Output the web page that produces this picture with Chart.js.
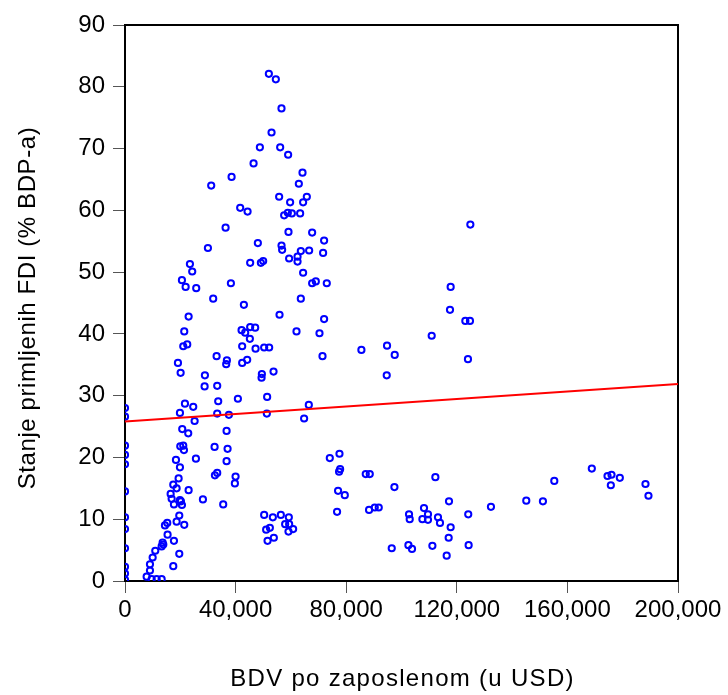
<!DOCTYPE html>
<html>
<head>
<meta charset="utf-8">
<script src="https://cdn.jsdelivr.net/npm/chart.js@4/dist/chart.umd.min.js"></script>
<style>
    html, body { margin: 0; padding: 0; background: #fff; }
    #wrap { width: 728px; height: 695px; }
</style>
</head>
<body>
<div id="wrap"><canvas id="fdiChart" width="728" height="695"></canvas></div>
<script>
// BDV po zaposlenom (USD) -> x, stanje FDI (% BDP) -> y
const bdvPoZaposlenom = [
    0, 0, 0, 0, 0, 0, 0, 0, 0, 0, 0, 0,
    52030, 54550, 56600, 53000, 48780, 56120, 59000, 46500, 64200, 38550,
    62870, 31180, 55750, 65760, 59720, 64420, 41660, 44330, 57560, 58890,
    60340, 63340, 36380, 59130, 67680, 72010, 29990, 48050, 56610, 56830,
    63590, 66600, 71650, 59360, 62400, 62400, 45270, 49140, 49970, 64420,
    67680, 69010, 72980, 38300, 31900, 63590, 43000, 55890, 72010, 62030,
    70340, 42160, 43470, 45270, 47080, 45160, 42380, 47220, 50330, 52140,
    33130, 36850, 36600, 42380, 44190, 71430, 85500, 28900, 28790, 33350,
    49500, 49390, 53720, 33710, 40830, 51410, 66480, 33350, 37580, 51300,
    64780, 36740, 32400, 37100,
    23480, 24310, 20590, 21930, 25760, 23010, 21430, 21070, 22510, 19150,
    20120, 21680, 24680, 19870, 25180, 20700, 22870, 19990, 21070, 21320,
    25650, 18430, 36740, 19870, 19390, 17460, 18670, 16510, 32520, 33350,
    39990, 39740, 23010, 16870, 17700, 20230, 20590, 19870, 28180, 35520,
    19630, 14450, 15280, 18670, 21430, 15400, 17700, 13610, 13850, 13250,
    10950, 10000, 9030, 9030, 19630, 17460, 7830, 9650, 11450, 13250,
    50330, 53470, 56360, 59250, 57920, 59370, 60810, 59130, 51050, 52390,
    51560, 53830,
    74070, 77570, 77800, 77420, 77060, 79490, 76700,
    94770, 97550, 94660, 110920, 117780, 117540, 123090, 124760, 124040, 124900,
    87070, 88520, 97440, 88270, 90330, 91770, 96470, 102720, 102970, 102500,
    103800, 108140, 109580, 107560, 109580, 111170, 112250, 113200, 113920, 117180,
    117780, 117060, 116340, 124140, 124280, 132350, 145130, 151150, 155260, 168830,
    174510, 175950, 175710, 178960, 188240, 189320
]

const stanjeFdi = [
    28.0, 26.6, 21.9, 20.4, 18.9, 14.5, 10.3, 8.4, 5.3, 2.3, 1.2, 0.2,
    82.1, 81.2, 76.5, 72.6, 70.2, 70.2, 69.0, 67.6, 66.1, 65.4,
    64.3, 64.0, 62.2, 62.2, 61.3, 61.3, 60.4, 59.8, 59.2, 59.6,
    59.5, 59.5, 57.2, 56.5, 56.4, 55.1, 53.9, 54.7, 54.3, 53.6,
    53.4, 53.5, 53.1, 52.2, 52.5, 51.7, 51.5, 51.5, 51.8, 49.9,
    48.2, 48.5, 48.2, 48.2, 45.7, 45.7, 44.7, 43.1, 42.4, 40.4,
    40.1, 40.6, 40.2, 41.1, 41.0, 39.2, 38.0, 37.6, 37.8, 37.8,
    36.4, 35.7, 35.1, 35.3, 35.8, 36.4, 37.4, 33.3, 31.5, 31.6,
    33.5, 32.9, 33.9, 29.1, 29.5, 29.8, 28.5, 27.1, 26.9, 27.1,
    26.3, 24.3, 21.7, 21.4,
    51.3, 50.1, 48.7, 47.6, 47.4, 42.8, 40.4, 38.0, 38.3, 35.3,
    33.7, 28.7, 28.2, 27.2, 25.9, 24.6, 23.9, 21.8, 21.9, 21.2,
    19.8, 19.6, 19.4, 18.4, 16.6, 15.6, 15.0, 14.1, 17.1, 17.5,
    16.9, 15.8, 14.7, 13.3, 12.4, 12.9, 12.3, 13.1, 13.2, 12.4,
    10.6, 9.0, 9.4, 9.6, 9.1, 7.5, 6.5, 6.2, 5.9, 5.6,
    4.9, 3.8, 2.7, 1.7, 4.4, 2.4, 0.7, 0.3, 0.3, 0.3,
    10.7, 10.3, 10.7, 10.3, 9.2, 9.2, 8.4, 8.0, 8.3, 8.6,
    6.5, 7.0,
    19.9, 20.6, 18.1, 17.7, 14.6, 13.9, 11.2,
    38.1, 36.6, 33.3, 39.7, 47.6, 43.9, 42.1, 42.1, 35.9, 57.7,
    17.3, 17.3, 15.2, 11.5, 11.9, 11.9, 5.3, 10.8, 10.0, 5.8,
    5.2, 11.8, 10.8, 10.0, 9.9, 5.7, 16.8, 10.3, 9.4, 12.9,
    8.7, 7.0, 4.1, 10.8, 5.8, 12.0, 13.0, 12.9, 16.2, 18.2,
    17.0, 17.2, 15.5, 16.7, 15.7, 13.8
]

// krajnje tacke linije regresije (ocitano sa slike)
const linijaX = [0, 200000]
const linijaY = [25.8, 31.9]

const xTicks = [0, 40000, 80000, 120000, 160000, 200000]
const yTicks = [0, 10, 20, 30, 40, 50, 60, 70, 80, 90]

const xNaslov = 'BDV po zaposlenom (u USD)'
const yNaslov = 'Stanje primljenih FDI (% BDP-a)'

const FONT = "'Liberation Sans', Arial, sans-serif"

;(function () {
    const points = bdvPoZaposlenom.map((x, i) => ({ x: x, y: stanjeFdi[i] }))
    const line = linijaX.map((x, i) => ({ x: x, y: linijaY[i] }))

    // okvir oko grafika
    const framePlugin = {
        id: 'frame',
        beforeDatasetsDraw(chart) {
            const a = chart.chartArea
            const ctx = chart.ctx
            ctx.save()
            ctx.strokeStyle = '#000'
            ctx.lineWidth = 2
            ctx.strokeRect(a.left, a.top, a.right - a.left, a.bottom - a.top)
            ctx.restore()
        }
    }

    // naslovi osa (malo razmaknuta slova kao u originalu)
    const axisTitles = {
        id: 'axisTitles',
        afterDraw(chart) {
            const a = chart.chartArea
            const ctx = chart.ctx
            ctx.save()
            ctx.fillStyle = '#000'
            ctx.font = '24px ' + FONT
            ctx.textAlign = 'center'

            ctx.letterSpacing = '1.3px'
            ctx.textBaseline = 'alphabetic'
            ctx.fillText(xNaslov, (a.left + a.right) / 2 + 1, 686)

            ctx.letterSpacing = '0.6px'
            ctx.textBaseline = 'middle'
            ctx.translate(28, (a.top + a.bottom) / 2 + 5)
            ctx.rotate(-Math.PI / 2)
            ctx.fillText(yNaslov, 0, 0)
            ctx.restore()
        }
    }

    new Chart(document.getElementById('fdiChart'), {
        type: 'scatter',
        data: {
            datasets: [
                {
                    data: points,
                    showLine: false,
                    pointStyle: 'circle',
                    pointRadius: 3.1,
                    pointBorderWidth: 2,
                    pointBorderColor: '#0000FF',
                    pointBackgroundColor: 'rgba(0,0,0,0)',
                    clip: 0,
                    order: 2
                },
                {
                    type: 'line',
                    data: line,
                    borderColor: '#FF0000',
                    borderWidth: 2,
                    pointRadius: 0,
                    fill: false,
                    clip: 0,
                    order: 1
                }
            ]
        },
        options: {
            responsive: false,
            animation: false,
            devicePixelRatio: 1,
            layout: {
                padding: { left: 10, right: 50, top: 25, bottom: 0 }
            },
            plugins: {
                legend: { display: false },
                tooltip: { enabled: false }
            },
            scales: {
                x: {
                    type: 'linear',
                    min: 0,
                    max: 200000,
                    afterBuildTicks: (s) => {
                        s.ticks = xTicks.map((v) => ({ value: v }))
                    },
                    afterFit: (s) => {
                        s.height = 114
                    },
                    border: { display: false },
                    grid: {
                        drawOnChartArea: false,
                        drawTicks: true,
                        tickLength: 12,
                        color: '#555',
                        lineWidth: 1
                    },
                    ticks: {
                        padding: 3,
                        color: '#000',
                        font: { family: FONT, size: 24 },
                        maxRotation: 0,
                        callback: (v) => Number(v).toLocaleString('en-US')
                    },
                    title: { display: false }
                },
                y: {
                    type: 'linear',
                    min: 0,
                    max: 90,
                    afterBuildTicks: (s) => {
                        s.ticks = yTicks.map((v) => ({ value: v }))
                    },
                    afterFit: (s) => {
                        s.width = 115
                    },
                    border: { display: false },
                    grid: {
                        drawOnChartArea: false,
                        drawTicks: true,
                        tickLength: 12,
                        color: '#555',
                        lineWidth: 1
                    },
                    ticks: {
                        padding: 8,
                        color: '#000',
                        font: { family: FONT, size: 24 }
                    },
                    title: { display: false }
                }
            }
        },
        plugins: [framePlugin, axisTitles]
    })
})()
</script>
</body>
</html>
